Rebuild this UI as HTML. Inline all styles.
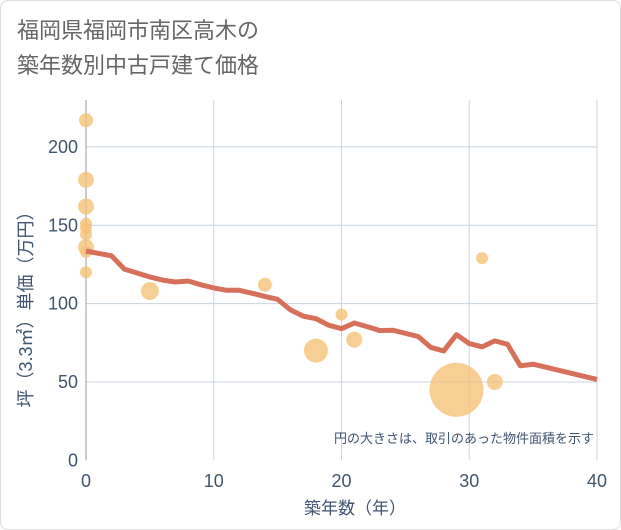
<!DOCTYPE html>
<html><head><meta charset="utf-8"><style>
body{margin:0;background:#fff;}
#wrap{position:relative;width:621px;height:530px;font-family:"Liberation Sans","Noto Sans CJK JP",sans-serif;}
#frame{position:absolute;left:0;top:0;width:619px;height:528px;border:1px solid #ddd;border-radius:8px;}
#title{position:absolute;left:17px;top:13px;font-size:22px;line-height:35px;color:#666;}
</style></head><body>
<div id="wrap">
<div id="frame"></div>
<div id="title">福岡県福岡市南区高木の<br>築年数別中古戸建て価格</div>
<svg id="chart" width="621" height="530" style="position:absolute;left:0;top:0"></svg>
</div>
<script>
const lineYears=[0,1,2,3,4,5,6,7,8,9,10,11,12,13,14,15,16,17,18,19,20,21,22,23,24,25,26,27,28,29,30,31,32,33,34,35,36,37,38,39,40];
const lineValues=[133.5,132,130.5,122,119.5,117,115,113.8,114.4,112,110,108.5,108.5,106.6,104.6,102.7,96,92,90.4,86.2,84,87.6,85.3,82.8,83,81,79,72,69.8,80.2,74.5,72.4,76.2,74,60.3,61.3,59.4,57.4,55.5,53.5,51.6];
const bubbleYears=[0,0,0,0,0,0,0,0,0,5,14,18,20,21,29,31,32];
const bubbleValues=[217,179,162,151,148,144,136,133,120,108,112,70,93,77,45,129,50];
const bubbleAreas=[49,64,64,36,36,36,64,36,36,81,49,144,36,64,729,36,64];
const xTicks=[0,10,20,30,40];
const yTicks=[0,50,100,150,200];
const NS="http://www.w3.org/2000/svg";
const svg=document.getElementById('chart');
const X0=86,X1=597,Y0=460.3,Ypx=1.567;
const xs=v=>X0+(X1-X0)*v/40;
const ys=v=>Y0-v*Ypx;
function mk(t,a){const e=document.createElementNS(NS,t);for(const k in a)e.setAttribute(k,a[k]);svg.appendChild(e);return e;}
xTicks.forEach(t=>{
 const g=mk('line',{x1:xs(t),x2:xs(t),y1:100,y2:Y0,stroke:'#c8d4e0','stroke-width':1});
 
 
 const l=mk('text',{x:xs(t),y:487,'text-anchor':'middle','font-size':18,fill:'#3f5570'});
 l.textContent=t;
 
 
});
yTicks.forEach(t=>{
 if(t>0){const g=mk('line',{x1:X0,x2:X1,y1:ys(t),y2:ys(t),stroke:'#c8d4e0','stroke-width':1});
 
 }
 const l=mk('text',{x:78,y:ys(t)+6,'text-anchor':'end','font-size':18,fill:'#3f5570'});
 l.textContent=t;
 
 
});
const ax=mk('line',{x1:X0,x2:X0,y1:100,y2:Y0,stroke:'#999','stroke-width':1});


bubbleYears.forEach((yr,i)=>{
 const c=mk('circle',{cx:xs(yr),cy:ys(bubbleValues[i]),r:Math.sqrt(bubbleAreas[i]),fill:'#f5c177','fill-opacity':0.78});
 
 
});
const pts=lineYears.map((y,i)=>xs(y)+','+ys(lineValues[i])).join(' ');
const pl=mk('polyline',{points:pts,fill:'none',stroke:'#d6705b','stroke-width':5,'stroke-linejoin':'round'});


const xt=mk('text',{x:355,y:514,'text-anchor':'middle','font-size':17,fill:'#3f5570'});
xt.textContent='築年数（年）';


const yt=mk('text',{x:0,y:0,'text-anchor':'middle','font-size':18,fill:'#3f5570',transform:'translate(32,305) rotate(-90)'});
yt.textContent='坪（3.3㎡）単価（万円）';


const note=mk('text',{x:594,y:443,'text-anchor':'end','font-size':13,fill:'#3f5570'});
note.textContent='円の大きさは、取引のあった物件面積を示す';


</script>
</body></html>
